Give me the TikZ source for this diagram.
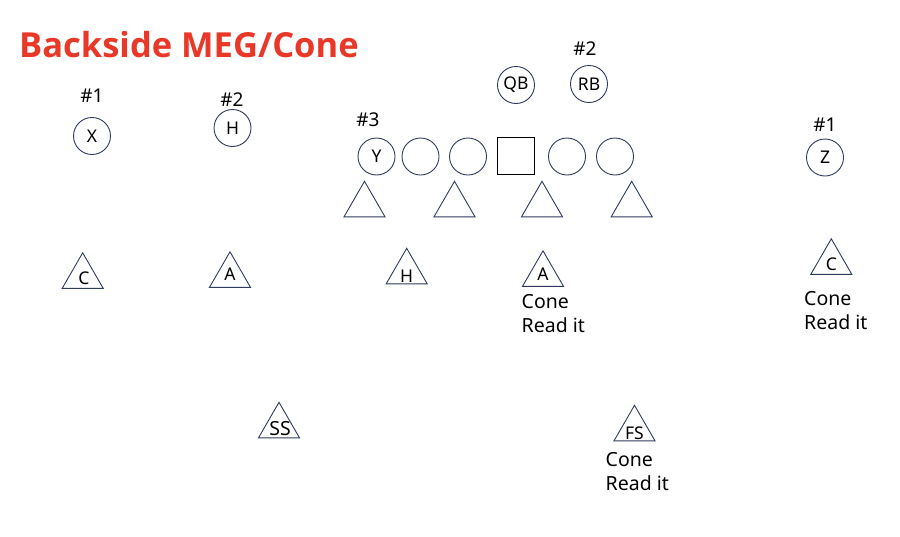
\documentclass[tikz,border=0pt]{standalone}
\usepackage{fontspec}
\setmainfont{Noto Sans}
\newfontfamily\titlefont{Open Sans}
\usetikzlibrary{shapes.geometric}
\definecolor{navy}{RGB}{47,60,96}
\definecolor{titlered}{RGB}{233,56,40}
\tikzset{
  player/.style={circle, draw=navy, line width=0.9pt, minimum size=37pt, inner sep=0pt, font=\fontsize{17.5}{18}\selectfont},
  center/.style={rectangle, draw=black, line width=1pt, minimum size=37pt, inner sep=0pt},
  tri/.style={regular polygon, regular polygon sides=3, draw=navy, line width=0.9pt, minimum size=47.4pt, inner sep=0pt},
  trilbl/.style={inner sep=0pt, font=\fontsize{17.5}{18}\selectfont},
  num/.style={inner sep=0pt, font=\fontsize{19}{20}\selectfont},
  note/.style={inner sep=0pt, anchor=base west, font=\fontsize{19.5}{24}\selectfont},
}
\begin{document}
\begin{tikzpicture}[x=1pt, y=-1pt]
\useasboundingbox (0,0) rectangle (900,536);
\fill[white] (0,0) rectangle (900,536);
% title
\node[inner sep=0pt, anchor=base west, text=titlered, font=\titlefont\bfseries\fontsize{34.5}{40}\selectfont] (title) at (19,57) {Backside MEG/Cone};
% offense
\node[player] (X) at (92,136) {X};
\node[player] (H) at (232.5,128) {H};
\node[player] (Y) at (376.5,156.5) {Y};
\node[player] (o1) at (420.5,156.5) {};
\node[player] (o2) at (468,156.5) {};
\node[center] (C) at (515.7,155.7) {};
\node[player] (o3) at (567,156.5) {};
\node[player] (o4) at (615,156.5) {};
\node[player] (QB) at (516,85) {QB};
\node[player] (RB) at (589,84) {RB};
\node[player] (Z) at (825,157.5) {Z};
% numbers
\node[num] (n1) at (92,96) {\#1};
\node[num] (n2) at (232,100) {\#2};
\node[num] (n3) at (368,120) {\#3};
\node[num] (n4) at (585,49) {\#2};
\node[num] (n5) at (825,125) {\#1};
% front
\node[tri] (d1) at (364.5,205) {};
\node[tri] (d2) at (454.5,205) {};
\node[tri] (d3) at (542,205) {};
\node[tri] (d4) at (631.7,205) {};
% second level
\node[tri] (cL) at (82.7,276.5) {};
\node[trilbl] (cLl) at (84,278) {C};
\node[tri] (aL) at (230,275.5) {};
\node[trilbl] (aLl) at (230,274) {A};
\node[tri] (hL) at (406.7,272) {};
\node[trilbl] (hLl) at (406.7,276) {H};
\node[tri] (aR) at (543,274.5) {};
\node[trilbl] (aRl) at (543,274) {A};
\node[tri] (cR) at (831.3,262.5) {};
\node[trilbl] (cRl) at (831.3,264) {C};
\node[tri] (ss) at (279,426) {};
\node[trilbl, font=\fontsize{19.5}{20}\selectfont] (ssl) at (280,429) {SS};
\node[tri] (fs) at (634.5,429) {};
\node[trilbl] (fsl) at (634.5,433) {FS};
% notes
\node[note] (aR1) at (521.5,308) {Cone};
\node[note] (aR2) at (521.5,332) {Read it};
\node[note] (cR1) at (804,305) {Cone};
\node[note] (cR2) at (804,329) {Read it};
\node[note] (fs1) at (605.5,466) {Cone};
\node[note] (fs2) at (605.5,490) {Read it};
\end{tikzpicture}
\end{document}
